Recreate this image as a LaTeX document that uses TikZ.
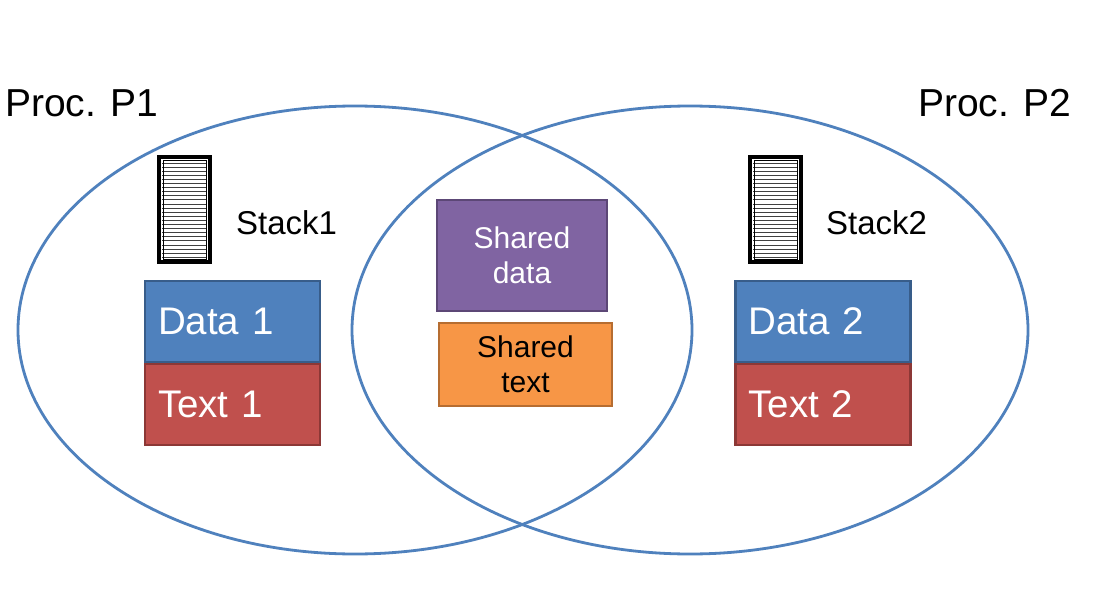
\documentclass[tikz,border=0pt]{standalone}
\usepackage{fontspec}
\setmainfont{Liberation Sans}
\begin{document}
\begin{tikzpicture}[x=1pt,y=-1pt,
  procell/.style={draw=procblue, line width=2.8pt},
  box/.style={line width=2.5pt, inner ysep=0pt, minimum height=81pt},
  lbox/.style={box, text width=149pt, inner xsep=13pt, align=left, text=white, font=\fontsize{38.5}{42}\selectfont},
  sbox/.style={line width=2.5pt, align=center, inner sep=0pt, font=\fontsize{30}{35}\selectfont},
  lbl/.style={anchor=west, inner sep=0pt, font=\fontsize{33}{36}\selectfont},
  title/.style={anchor=west, inner sep=0pt, font=\fontsize{39}{42}\selectfont},
  stk/.style={draw=black, line width=3.5pt}
]
\definecolor{procblue}{HTML}{4F81BD}
\definecolor{datafill}{HTML}{4F81BD}
\definecolor{dataline}{HTML}{385D8A}
\definecolor{textfill}{HTML}{C0504D}
\definecolor{textline}{HTML}{8C3836}
\definecolor{shdfill}{HTML}{8064A2}
\definecolor{shdline}{HTML}{5C4776}
\definecolor{shtfill}{HTML}{F79646}
\definecolor{shtline}{HTML}{B66D31}
\useasboundingbox (0,0) rectangle (1096,594);
\fill[white] (0,0) rectangle (1096,594);

% processes
\draw[procell] (355,330) ellipse [x radius=337, y radius=224];
\draw[procell] (690,330) ellipse [x radius=338, y radius=224];

% titles
\node[title] (p1) at (5,103) {Proc. P1};
\node[title] (p2) at (918,103) {Proc. P2};

% stacks
\foreach \sx/\nm in {159/stackA,750/stackB}{
  \foreach \k in {0,...,23}{
    \draw[line width=1pt, black!75] (\sx+3,163+\k*4.1) -- (\sx+48,163+\k*4.1);
  }
  \draw[line width=0.8pt] (\sx+4,160) rectangle (\sx+47,259);
  \draw[stk] (\sx,157) rectangle (\sx+51,262);
  \coordinate (\nm) at (\sx+25,210);
}
\node[lbl] (s1) at (236,223) {Stack1};
\node[lbl] (s2) at (826,223) {Stack2};

% process 1 segments
\node[lbox, fill=datafill, draw=dataline] (d1) at (232.5,321.5) {Data 1};
\node[lbox, fill=textfill, draw=textline] (t1) at (232.5,404.5) {Text 1};
% process 2 segments
\node[lbox, fill=datafill, draw=dataline] (d2) at (823,321.5) {Data 2};
\node[lbox, fill=textfill, draw=textline] (t2) at (823,404.5) {Text 2};

% shared
\node[sbox, fill=shdfill, draw=shdline, text=white, minimum width=170pt, minimum height=111pt] (sd) at (522,255.5) {Shared\\data};
\node[sbox, fill=shtfill, draw=shtline, text=black, minimum width=173pt, minimum height=83pt] (st) at (525.5,364.5) {Shared\\text};
\end{tikzpicture}
\end{document}
